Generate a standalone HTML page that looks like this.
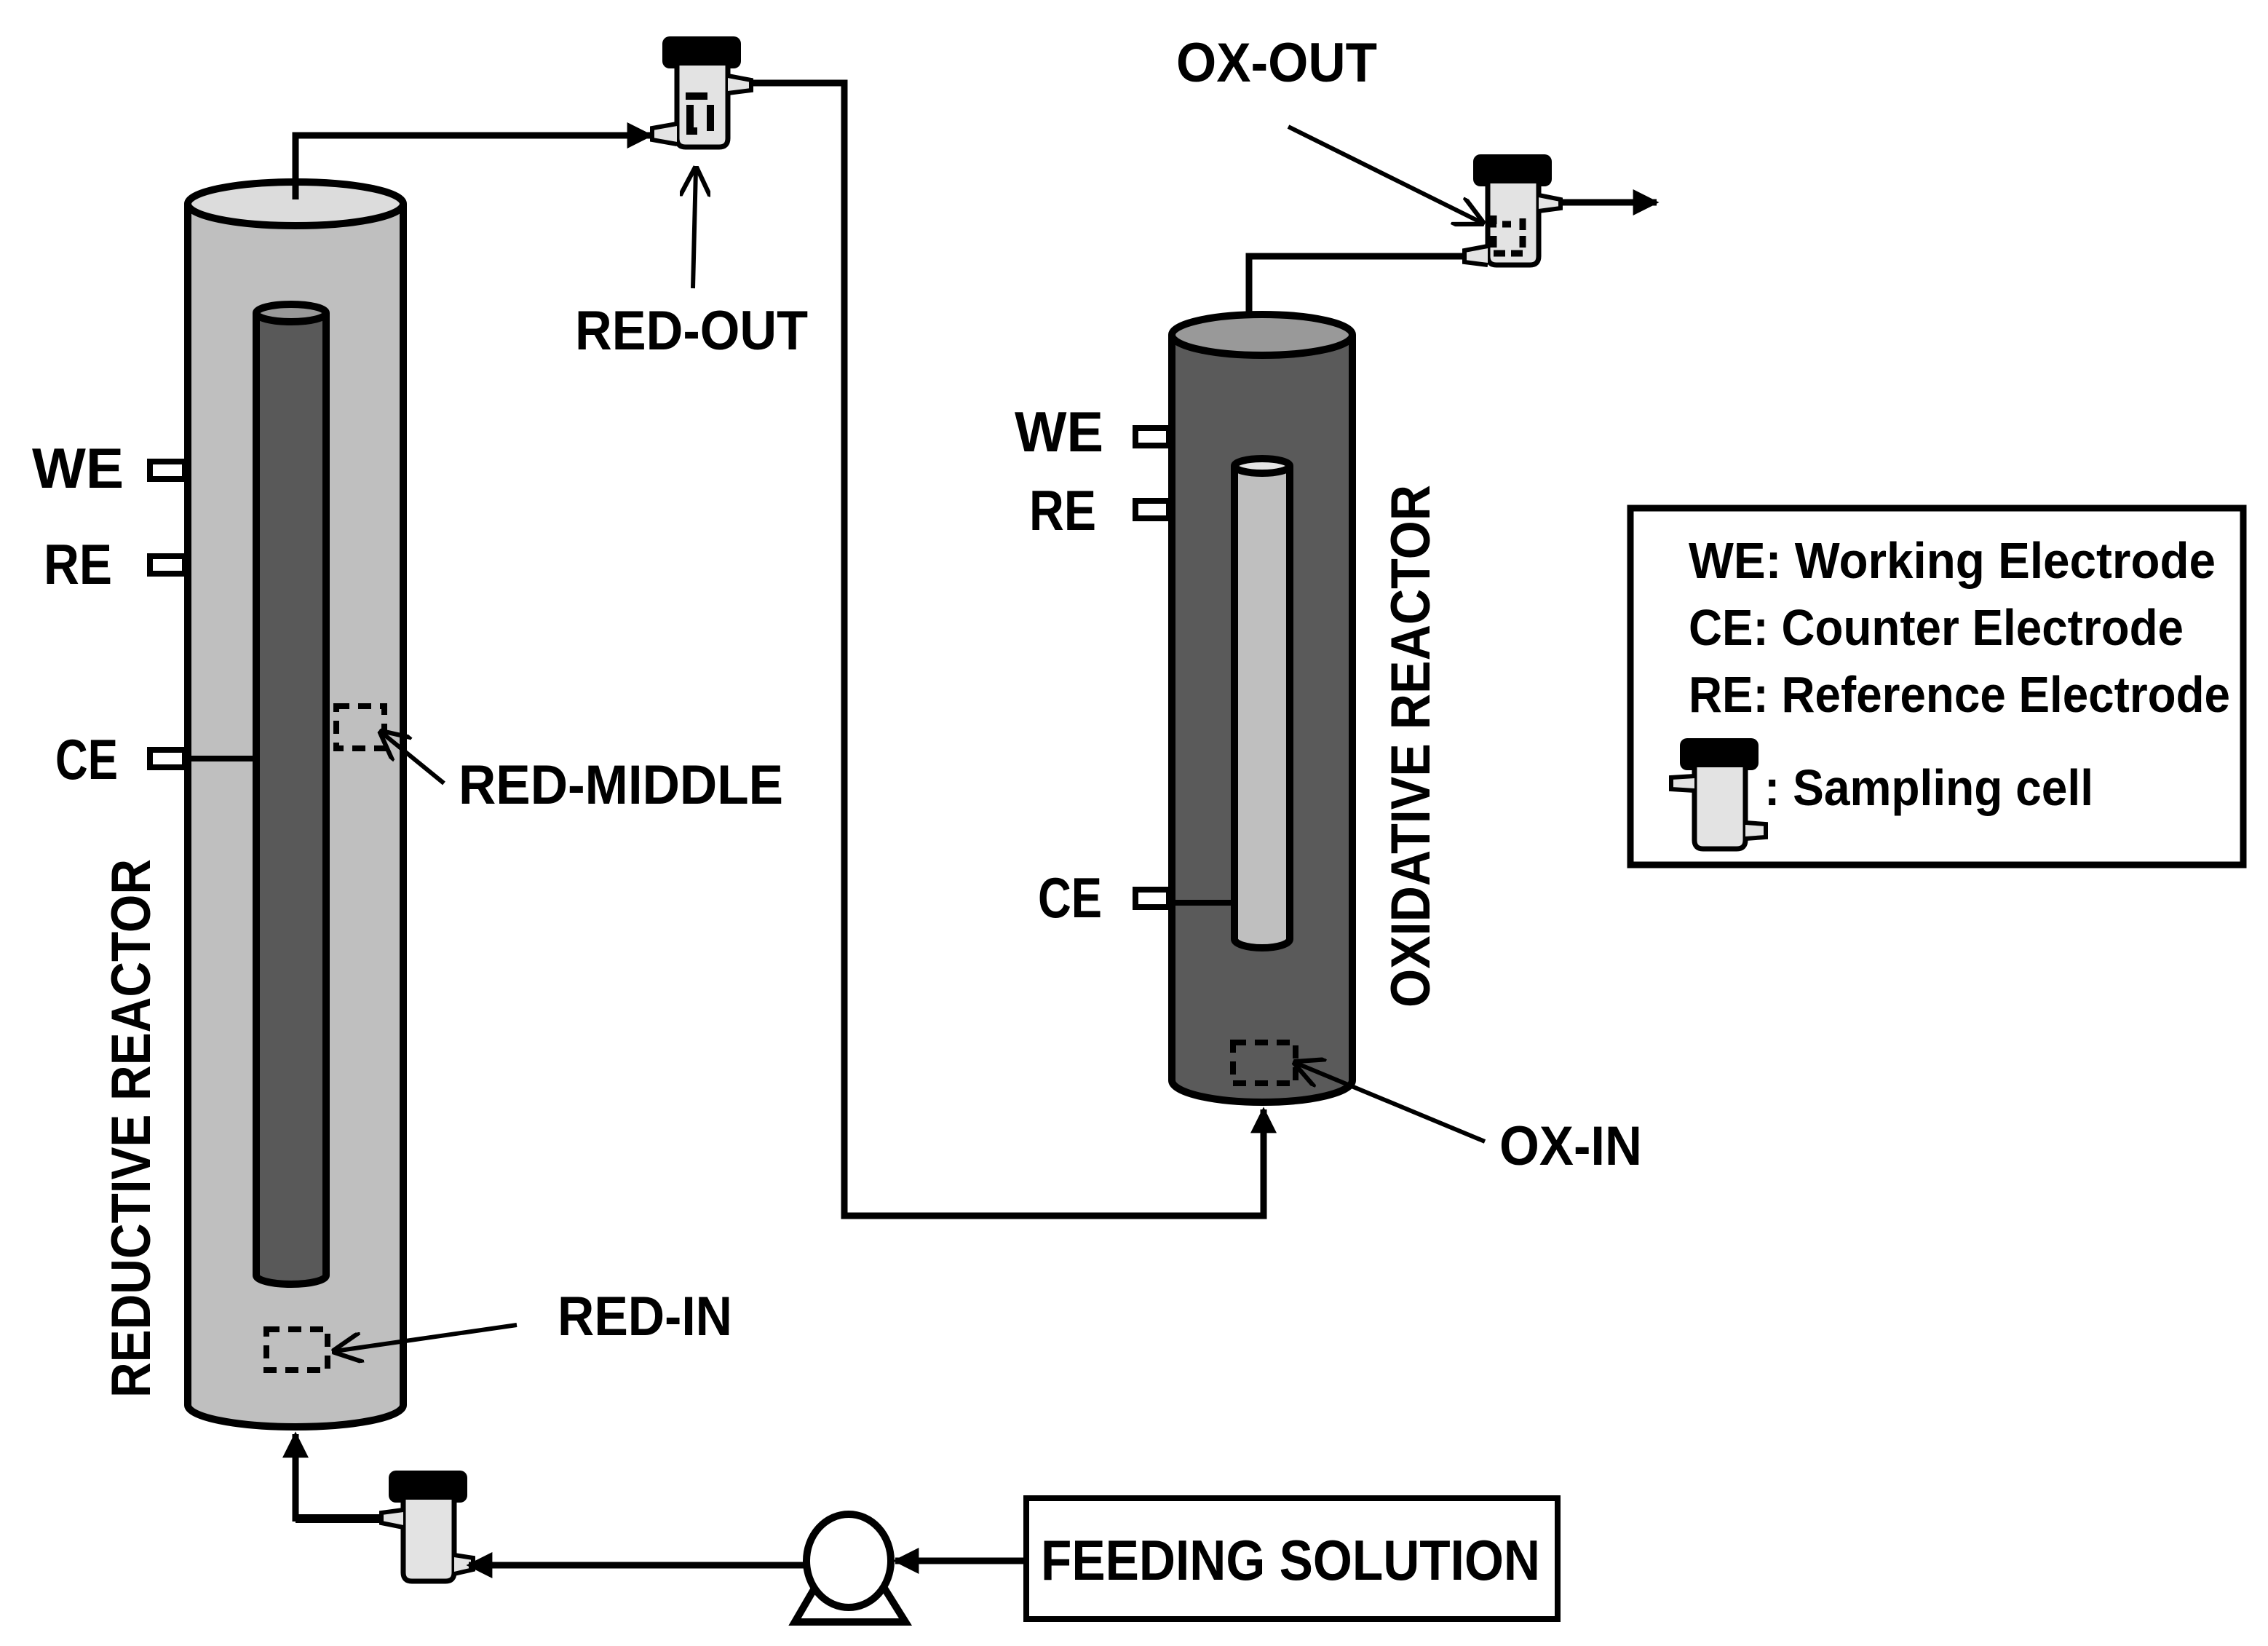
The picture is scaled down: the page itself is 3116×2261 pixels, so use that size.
<!DOCTYPE html>
<html><head><meta charset="utf-8"><style>
html,body{margin:0;padding:0;background:#fff;}
svg{display:block;}
text{font-family:"Liberation Sans",sans-serif;font-weight:bold;fill:#000;}
</style></head><body>
<svg width="3116" height="2261" viewBox="0 0 1558 1130.5" xmlns="http://www.w3.org/2000/svg">
<defs>
<marker id="ah" viewBox="0 0 10 10" refX="9" refY="5" markerWidth="4" markerHeight="4" orient="auto" markerUnits="strokeWidth"><path d="M0,0 L10,5 L0,10 z" fill="#000"/></marker>
<marker id="oh" viewBox="0 0 10 10" refX="9" refY="5" markerWidth="7" markerHeight="7" orient="auto" markerUnits="strokeWidth"><path d="M0,0 L10,5 L0,10" fill="none" stroke="#000" stroke-width="1.5"/></marker>
<g id="cell">
  <rect x="0" y="0" width="54" height="22" rx="5" fill="#000"/>
  <path d="M10,20 L10,70 Q10,76 16,76 L39,76 Q45,76 45,70 L45,20" fill="#e3e3e3" stroke="#000" stroke-width="3.5"/>
</g>
</defs>

<!-- Reductive reactor -->
<path d="M129,140 L129,965 A74,15 0 0 0 277,965 L277,140" fill="#bfbfbf" stroke="#000" stroke-width="5"/>
<ellipse cx="203" cy="140" rx="74" ry="15" fill="#dcdcdc" stroke="#000" stroke-width="5"/>
<path d="M176,215 L176,876 A24,6 0 0 0 224,876 L224,215" fill="#595959" stroke="#000" stroke-width="5"/>
<ellipse cx="200" cy="215" rx="24" ry="6" fill="#999" stroke="#000" stroke-width="5"/>
<rect x="103" y="317" width="24" height="12" fill="#fff" stroke="#000" stroke-width="4"/>
<rect x="103" y="382" width="24" height="12" fill="#fff" stroke="#000" stroke-width="4"/>
<rect x="103" y="515" width="24" height="12" fill="#fff" stroke="#000" stroke-width="4"/>
<line x1="129" y1="521" x2="176" y2="521" stroke="#000" stroke-width="4"/>
<text x="22" y="335" font-size="39" textLength="63" lengthAdjust="spacingAndGlyphs">WE</text>
<text x="30" y="401" font-size="39" textLength="47" lengthAdjust="spacingAndGlyphs">RE</text>
<text x="38" y="535" font-size="39" textLength="43" lengthAdjust="spacingAndGlyphs">CE</text>
<text transform="translate(103,960) rotate(-90)" font-size="38" textLength="370" lengthAdjust="spacingAndGlyphs">REDUCTIVE REACTOR</text>
<rect x="231" y="485" width="33" height="29" fill="none" stroke="#000" stroke-width="4" stroke-dasharray="9,6"/>
<line x1="305" y1="538" x2="262" y2="503" stroke="#000" stroke-width="3" marker-end="url(#oh)"/>
<text x="315" y="552" font-size="38" textLength="223" lengthAdjust="spacingAndGlyphs">RED-MIDDLE</text>
<rect x="183" y="913" width="42" height="28" fill="none" stroke="#000" stroke-width="4" stroke-dasharray="9,6"/>
<line x1="355" y1="910" x2="230" y2="928" stroke="#000" stroke-width="3" marker-end="url(#oh)"/>
<text x="383" y="917" font-size="38" textLength="120" lengthAdjust="spacingAndGlyphs">RED-IN</text>

<polyline points="203,137 203,93 447,93" fill="none" stroke="#000" stroke-width="4.5" marker-end="url(#ah)"/>
<use href="#cell" x="455" y="25"/>
<path d="M465,85 L448,88 L448,96 L465,99" fill="#e3e3e3" stroke="#000" stroke-width="3"/>
<path d="M500,52 L516,55 L516,62 L500,64" fill="#e3e3e3" stroke="#000" stroke-width="3"/>
<path d="M471,66 h15 M474,72 v18 h5 M488,72 v18" stroke="#000" stroke-width="5" fill="none"/>
<polyline points="516,57 580,57 580,835 868,835 868,762" fill="none" stroke="#000" stroke-width="4.5" marker-end="url(#ah)"/>
<line x1="476" y1="198" x2="478" y2="116" stroke="#000" stroke-width="3" marker-end="url(#oh)"/>
<text x="395" y="240" font-size="38" textLength="160" lengthAdjust="spacingAndGlyphs">RED-OUT</text>

<!-- Oxidative reactor -->
<path d="M805,230 L805,742 A62,15 0 0 0 929,742 L929,230" fill="#5a5a5a" stroke="#000" stroke-width="5"/>
<ellipse cx="867" cy="230" rx="62" ry="14" fill="#999" stroke="#000" stroke-width="5"/>
<path d="M848,320 L848,645 A19,6 0 0 0 886,645 L886,320" fill="#bfbfbf" stroke="#000" stroke-width="5"/>
<ellipse cx="867" cy="320" rx="19" ry="5" fill="#e5e5e5" stroke="#000" stroke-width="5"/>
<rect x="780" y="294" width="23" height="12" fill="#fff" stroke="#000" stroke-width="4"/>
<rect x="780" y="344" width="23" height="12" fill="#fff" stroke="#000" stroke-width="4"/>
<rect x="780" y="611" width="23" height="12" fill="#fff" stroke="#000" stroke-width="4"/>
<line x1="805" y1="620" x2="848" y2="620" stroke="#000" stroke-width="4"/>
<text x="697" y="310" font-size="39" textLength="61" lengthAdjust="spacingAndGlyphs">WE</text>
<text x="707" y="364" font-size="39" textLength="46" lengthAdjust="spacingAndGlyphs">RE</text>
<text x="713" y="630" font-size="39" textLength="44" lengthAdjust="spacingAndGlyphs">CE</text>
<text transform="translate(982,692) rotate(-90)" font-size="38" textLength="359" lengthAdjust="spacingAndGlyphs">OXIDATIVE REACTOR</text>
<rect x="847" y="716" width="43" height="28" fill="none" stroke="#000" stroke-width="4" stroke-dasharray="9,6"/>
<line x1="1020" y1="784" x2="890" y2="730" stroke="#000" stroke-width="3" marker-end="url(#oh)"/>
<text x="1030" y="800" font-size="38" textLength="98" lengthAdjust="spacingAndGlyphs">OX-IN</text>

<polyline points="858,216 858,176 1022,176" fill="none" stroke="#000" stroke-width="4.5"/>
<use href="#cell" x="1012" y="106"/>
<path d="M1022,169 L1006,172 L1006,180 L1022,182" fill="#e3e3e3" stroke="#000" stroke-width="3"/>
<path d="M1057,134 L1072,137 L1072,143 L1057,145" fill="#e3e3e3" stroke="#000" stroke-width="3"/>
<path d="M1026,148 v6 h12 M1026,162 v12 h20 M1046,150 v20" stroke="#000" stroke-width="4.5" fill="none" stroke-dasharray="8,4"/>
<line x1="1072" y1="139" x2="1138" y2="139" stroke="#000" stroke-width="4.5" marker-end="url(#ah)"/>
<line x1="885" y1="87" x2="1018" y2="153" stroke="#000" stroke-width="3" marker-end="url(#oh)"/>
<text x="808" y="56" font-size="38" textLength="138" lengthAdjust="spacingAndGlyphs">OX-OUT</text>

<!-- Legend -->
<rect x="1120" y="349" width="421" height="245" fill="#fff" stroke="#000" stroke-width="4.5"/>
<text x="1160" y="397" font-size="35" textLength="362" lengthAdjust="spacingAndGlyphs">WE: Working Electrode</text>
<text x="1160" y="443" font-size="35" textLength="340" lengthAdjust="spacingAndGlyphs">CE: Counter Electrode</text>
<text x="1160" y="489" font-size="35" textLength="372" lengthAdjust="spacingAndGlyphs">RE: Reference Electrode</text>
<use href="#cell" x="1154" y="507"/>
<path d="M1164,533 L1148,534 L1148,542 L1164,543" fill="#e3e3e3" stroke="#000" stroke-width="3"/>
<path d="M1199,565 L1213,566 L1213,575 L1199,576" fill="#e3e3e3" stroke="#000" stroke-width="3"/>
<text x="1212" y="553" font-size="35" textLength="226" lengthAdjust="spacingAndGlyphs">: Sampling cell</text>

<!-- Bottom feed -->
<polyline points="203,1045 203,985" fill="none" stroke="#000" stroke-width="4.5" marker-end="url(#ah)"/>
<line x1="203" y1="1043" x2="268" y2="1043" stroke="#000" stroke-width="6"/>
<use href="#cell" x="267" y="1010"/>
<path d="M277,1037 L262,1039 L262,1046 L277,1049" fill="#e3e3e3" stroke="#000" stroke-width="3"/>
<path d="M312,1068 L325,1070 L325,1078 L312,1081" fill="#e3e3e3" stroke="#000" stroke-width="3"/>
<line x1="552" y1="1075" x2="322" y2="1075" stroke="#000" stroke-width="4.5" marker-end="url(#ah)"/>
<path d="M560,1090 L546,1114 L622,1114 L607,1090" fill="#fff" stroke="#000" stroke-width="5"/>
<ellipse cx="583" cy="1072" rx="29" ry="32" fill="#fff" stroke="#000" stroke-width="5"/>
<line x1="705" y1="1072" x2="615" y2="1072" stroke="#000" stroke-width="4.5" marker-end="url(#ah)"/>
<rect x="705" y="1029" width="365" height="83" fill="#fff" stroke="#000" stroke-width="4"/>
<text x="715" y="1085" font-size="39" textLength="343" lengthAdjust="spacingAndGlyphs">FEEDING SOLUTION</text>
</svg>
</body></html>
